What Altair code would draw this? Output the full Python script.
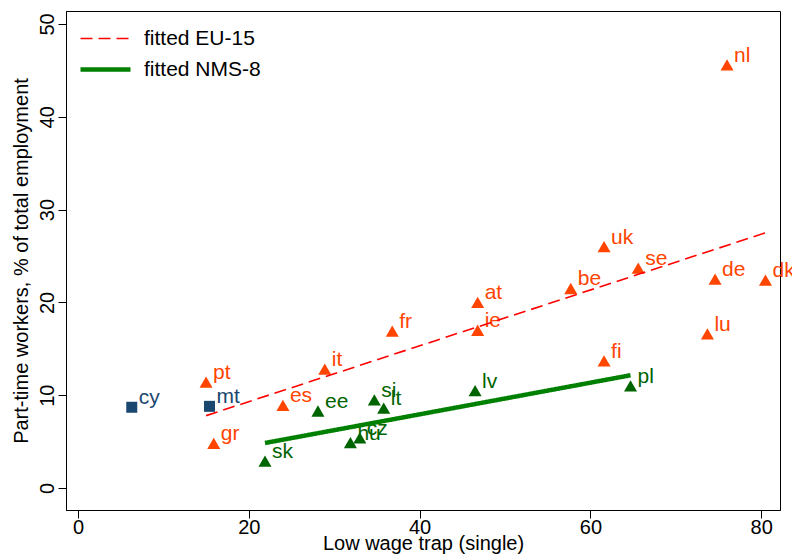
import altair as alt
import pandas as pd

# EU-15 countries
eu_codes = ["nl", "dk", "de", "se", "uk", "be", "at", "ie", "fr", "it", "pt", "es", "gr", "lu", "fi"]
eu_x = [76.0, 80.5, 74.6, 65.6, 61.6, 57.7, 46.8, 46.8, 36.8, 28.9, 15.0, 24.0, 15.9, 73.7, 61.6]
eu_y = [45.6, 22.4, 22.5, 23.7, 26.0, 21.5, 20.0, 17.0, 16.9, 12.8, 11.4, 8.9, 4.8, 16.6, 13.7]

# NMS-8 countries
nms_codes = ["pl", "lv", "si", "lt", "ee", "hu", "cz", "sk"]
nms_x = [64.7, 46.5, 34.7, 35.8, 28.1, 31.9, 33.0, 21.9]
nms_y = [11.0, 10.5, 9.5, 8.6, 8.3, 4.9, 5.4, 2.9]

# Other
oth_codes = ["cy", "mt"]
oth_x = [6.3, 15.4]
oth_y = [8.7, 8.8]

# Fitted lines (endpoints)
line_series = ["fitted EU-15", "fitted EU-15", "fitted NMS-8", "fitted NMS-8"]
line_x = [15.0, 80.5, 21.9, 64.7]
line_y = [7.8, 27.5, 4.85, 12.15]

FONT = "Liberation Sans"

eu_df = pd.DataFrame({"code": eu_codes, "x": eu_x, "y": eu_y})
nms_df = pd.DataFrame({"code": nms_codes, "x": nms_x, "y": nms_y})
oth_df = pd.DataFrame({"code": oth_codes, "x": oth_x, "y": oth_y})
line_df = pd.DataFrame({"series": line_series, "x": line_x, "y": line_y})

xs = alt.Scale(domain=[-1.4, 82.2], nice=False, zero=False)
ys = alt.Scale(domain=[-2.37, 51.4], nice=False, zero=False)

X = alt.X("x:Q", scale=xs, axis=alt.Axis(values=[0, 20, 40, 60, 80], title="Low wage trap (single)",
                                          labelPadding=-1, titlePadding=-4))
Y = alt.Y("y:Q", scale=ys, axis=alt.Axis(values=[0, 10, 20, 30, 40, 50],
                                          title="Part-time workers, % of total employment",
                                          labelAngle=270, labelAlign="center", labelBaseline="bottom",
                                          labelPadding=1, titlePadding=6))


def group(df, color, shape, size):
    p = alt.Chart(df).mark_point(filled=True, shape=shape, size=size, color=color, opacity=1).encode(x=X, y=Y)
    t = alt.Chart(df).mark_text(align="left", baseline="middle", dx=7, dy=-9, fontSize=21,
                                font=FONT, color=color).encode(x=X, y=Y, text="code:N")
    return p + t


dom = ["fitted EU-15", "fitted NMS-8"]
leg = alt.Legend(orient="none", legendX=12, legendY=12, title=None, symbolType="stroke",
                 symbolSize=2500, labelFontSize=21, labelFont=FONT, labelColor="black",
                 clipHeight=31, rowPadding=0, labelOffset=11)

lines = alt.Chart(line_df).mark_line().encode(
    x=X, y=Y,
    color=alt.Color("series:N", scale=alt.Scale(domain=dom, range=["#ff0000", "#008000"]), legend=leg),
    strokeDash=alt.StrokeDash("series:N", scale=alt.Scale(domain=dom, range=[[12, 6], [1, 0]]), legend=leg),
    strokeWidth=alt.StrokeWidth("series:N", scale=alt.Scale(domain=dom, range=[1.6, 4.5]), legend=leg),
)

chart = alt.layer(
    group(eu_df, "#ff4500", "triangle-up", 170),
    group(nms_df, "#006400", "triangle-up", 170),
    group(oth_df, "#1a476f", "square", 121),
    lines,
).properties(
    width=714, height=499, autosize="none",
    padding={"left": 58, "top": 3, "right": 12, "bottom": 45},
).configure_view(stroke="black", strokeWidth=1).configure_axis(
    labelFont=FONT, labelFontSize=20, labelColor="black", titleFont=FONT, titleFontSize=20,
    titleFontWeight="normal", titleColor="black", grid=False, tickColor="black", domainColor="black",
    tickSize=8,
)

chart.save("out.html", embed_options={"renderer": "svg", "actions": False})
